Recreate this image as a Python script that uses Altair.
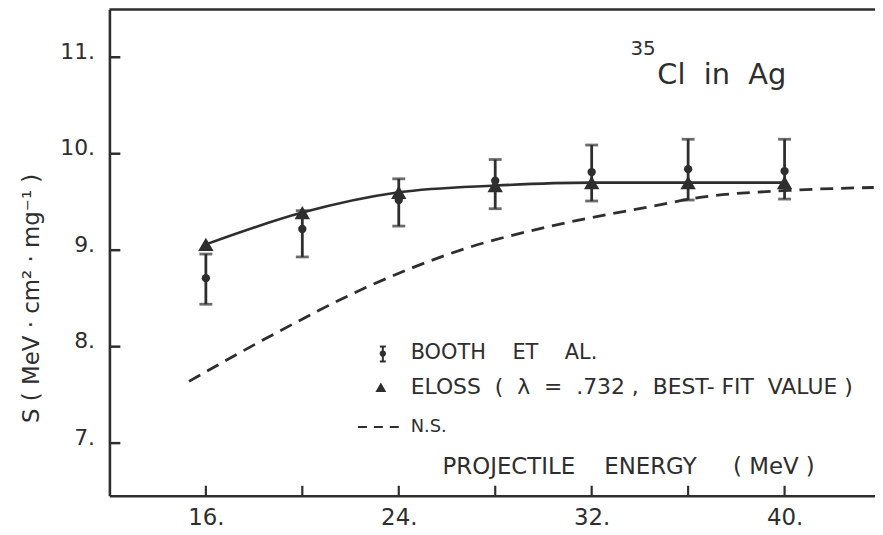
import altair as alt
import pandas as pd

# ---- data ----
energy = [16, 20, 24, 28, 32, 36, 40]
booth_s = [8.71, 9.22, 9.52, 9.72, 9.81, 9.84, 9.82]
booth_lo = [8.44, 8.93, 9.25, 9.43, 9.51, 9.52, 9.53]
booth_hi = [8.96, 9.41, 9.74, 9.94, 10.09, 10.15, 10.15]
eloss_s = [9.06, 9.39, 9.60, 9.67, 9.70, 9.70, 9.70]
ns_energy = [15.3, 18.6, 22.7, 26.8, 30.5, 34.6, 36.3, 40.2, 43.7]
ns_s = [7.64, 8.10, 8.62, 9.02, 9.26, 9.46, 9.54, 9.62, 9.65]
y_ticks = [7, 8, 9, 10, 11]
x_major = [16, 24, 32, 40]
x_minor = [20, 28, 36]

INK = "#2e2e2e"
FONT = "DejaVu Sans"
W, H = 770, 489
SP = "\u00a0"

xs = alt.Scale(domain=[12, 43.75], nice=False, zero=False)
ys = alt.Scale(domain=[6.455, 11.495], nice=False, zero=False)

xaxis = alt.Axis(values=x_major, labelExpr="datum.value + '.'", title=None,
                 ticks=False, tickSize=0, grid=False, domainColor=INK,
                 domainWidth=2.6, labelFont=FONT, labelFontSize=23,
                 labelColor=INK, labelPadding=11)
yaxis = alt.Axis(values=y_ticks, labelExpr="datum.value + '.'",
                 title="S ( MeV · cm² · mg⁻¹ )", titleFont=FONT,
                 titleFontSize=23, titleFontWeight="normal", titleColor=INK,
                 titleX=-66, titleY=290, titleAngle=270,
                 ticks=False, tickSize=0, grid=False, domainColor=INK,
                 domainWidth=2.6, labelFont=FONT, labelFontSize=22,
                 labelColor=INK, labelPadding=15, labelOffset=-6)

booth = pd.DataFrame({"E": energy, "S": booth_s, "lo": booth_lo, "hi": booth_hi})
caps = pd.DataFrame({"E": energy + energy, "S": booth_lo + booth_hi})
eloss = pd.DataFrame({"E": energy, "S": eloss_s})
ns = pd.DataFrame({"E": ns_energy, "S": ns_s})
yt = pd.DataFrame({"S": y_ticks})
xt = pd.DataFrame({"E": x_major + x_minor})
one = pd.DataFrame({"a": [0]})

def X():
    return alt.X("E:Q", scale=xs, axis=xaxis)

def Y(field="S:Q"):
    return alt.Y(field, scale=ys, axis=yaxis)

ns_line = alt.Chart(ns).mark_line(color=INK, strokeWidth=2.8, strokeDash=[13, 8],
                                  interpolate="monotone").encode(x=X(), y=Y())
fit_line = alt.Chart(eloss).mark_line(color=INK, strokeWidth=2.6,
                                      interpolate="monotone").encode(x=X(), y=Y())
err = alt.Chart(booth).mark_rule(color=INK, strokeWidth=2.8).encode(
    x=X(), y=Y("lo:Q"), y2="hi:Q")
cap = alt.Chart(caps).mark_tick(color=INK, orient="horizontal", size=13, thickness=2.8).encode(
    x=X(), y=Y())
pts = alt.Chart(booth).mark_point(shape="circle", filled=True, size=70, color=INK, opacity=1).encode(
    x=X(), y=Y())
tri = alt.Chart(eloss).mark_point(shape="triangle-up", filled=True, size=240, color=INK, opacity=1).encode(
    x=X(), y=Y())

ytick = alt.Chart(yt).mark_rule(color=INK, strokeWidth=2.5).encode(
    y=Y(), x=alt.value(0), x2=alt.value(11))
xtick = alt.Chart(xt).mark_rule(color=INK, strokeWidth=2.2).encode(
    x=X(), y=alt.value(H), y2=alt.value(H - 10))
top = alt.Chart(one).mark_rule(color=INK, strokeWidth=2.6).encode(
    x=alt.value(0), x2=alt.value(W), y=alt.value(0))

def txt(s, x, y, size=20, align="left", base="middle"):
    return alt.Chart(one).mark_text(font=FONT, fontSize=size, color=INK, align=align,
                                    baseline=base).encode(
        x=alt.value(x), y=alt.value(y), text=alt.value(s.replace(" ", SP)))

title_sup = txt("35", 524, 40, size=20)
title_main = txt("Cl  in  Ag", 551, 66, size=29)

# legend
leg_err = alt.Chart(one).mark_rule(color=INK, strokeWidth=2).encode(
    x=alt.value(275), y=alt.value(339), y2=alt.value(354))
leg_cap1 = alt.Chart(one).mark_rule(color=INK, strokeWidth=2).encode(
    x=alt.value(272), x2=alt.value(278), y=alt.value(339))
leg_cap2 = alt.Chart(one).mark_rule(color=INK, strokeWidth=2).encode(
    x=alt.value(272), x2=alt.value(278), y=alt.value(354))
leg_pt = alt.Chart(one).mark_point(shape="circle", filled=True, size=40, color=INK, opacity=1).encode(
    x=alt.value(275), y=alt.value(346))
leg_tri = alt.Chart(one).mark_point(shape="triangle-up", filled=True, size=120, color=INK, opacity=1).encode(
    x=alt.value(273), y=alt.value(380))
leg_dash = alt.Chart(one).mark_rule(color=INK, strokeWidth=2, strokeDash=[9, 7]).encode(
    x=alt.value(250), x2=alt.value(298), y=alt.value(420))

t1 = txt("BOOTH    ET    AL.", 303, 346, size=21)
t2 = txt("ELOSS  (  λ  =  .732 ,  BEST- FIT  VALUE )", 303, 380, size=22)
t3 = txt("N.S.", 303, 420, size=18)
t4 = txt("PROJECTILE    ENERGY     ( MeV )", 335, 460, size=23)

chart = alt.layer(
    ns_line, fit_line, err, cap, pts, tri, ytick, xtick, top,
    title_sup, title_main, leg_err, leg_cap1, leg_cap2, leg_pt, leg_tri, leg_dash,
    t1, t2, t3, t4,
).properties(
    width=W, height=H,
    autosize=alt.AutoSizeParams(type="none"),
    padding={"left": 102, "top": 0, "right": 0, "bottom": 37},
    background="white",
).configure_view(stroke=None)

chart.save("out.html", embed_options={"renderer": "svg", "actions": False})
